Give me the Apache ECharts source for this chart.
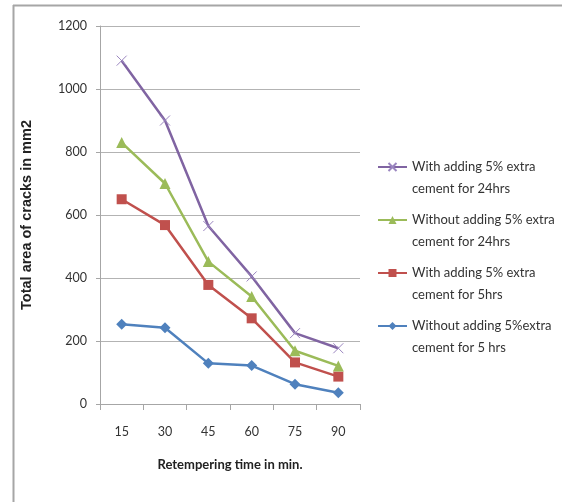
<!DOCTYPE html>
<html>
<head>
<meta charset="utf-8">
<script src="https://cdn.jsdelivr.net/npm/echarts@6/dist/echarts.min.js"></script>
<style>
  html, body { margin: 0; padding: 0; background: #ffffff; }
  #chart { width: 562px; height: 502px; }
</style>
</head>
<body>
<div id="chart"></div>
<script>
// Retempering time (minutes)
const categories = ['15', '30', '45', '60', '75', '90'];

// Total area of cracks (mm2) for each curing / cement condition
const seriesNames = [
  'With adding 5% extra\ncement for 24hrs',
  'Without adding 5% extra\ncement for 24hrs',
  'With adding 5% extra\ncement for 5hrs',
  'Without adding 5%extra\ncement for 5 hrs'
];
const with24 = [1090, 900, 565, 405, 225, 177];
const without24 = [830, 700, 452, 341, 169, 121];
const with5 = [650, 568, 378, 272, 132, 87];
const without5 = [253, 242, 129, 122, 63, 36];

const yTicks = [0, 200, 400, 600, 800, 1000, 1200];

const colors = ['#8064A2', '#9BBB59', '#C0504D', '#4F81BD'];
const symbols = [
  'path://M0,0L10,10M10,0L0,10',
  'triangle',
  'rect',
  'diamond'
];
const symbolSizes = [10, 11, 10, 11];
const values = [with24, without24, with5, without5];

const chart = echarts.init(document.getElementById('chart'), null, { renderer: 'canvas' });

const series = values.map((data, i) => ({
  name: seriesNames[i],
  type: 'line',
  data: data,
  symbol: symbols[i],
  symbolSize: symbolSizes[i],
  showAllSymbol: true,
  lineStyle: { color: colors[i], width: 2.5 },
  itemStyle: i === 0
    ? { color: colors[i], borderColor: '#9b86c0', borderWidth: 1 }
    : { color: colors[i], borderWidth: 0 },
  emphasis: { disabled: true },
  z: 10 - i
}));

chart.setOption({
  animation: false,
  backgroundColor: '#ffffff',
  grid: { left: 100, right: 202, top: 26, bottom: 98 },
  xAxis: {
    type: 'category',
    data: categories,
    boundaryGap: true,
    name: 'Retempering time in min.',
    nameLocation: 'middle',
    nameGap: 54,
    nameTextStyle: { fontFamily: 'Lato', fontWeight: 'bold', fontSize: 13, color: '#222' },
    axisLine: { lineStyle: { color: '#a6a6a6', width: 1 } },
    axisTick: { show: true, inside: false, length: 6, alignWithLabel: false, lineStyle: { color: '#a6a6a6' } },
    axisLabel: { margin: 21, fontFamily: 'Lato', fontSize: 12.5, color: '#333' },
    splitLine: { show: false }
  },
  yAxis: {
    type: 'value',
    min: yTicks[0],
    max: yTicks[yTicks.length - 1],
    interval: 200,
    name: 'Total area of cracks in mm2',
    nameLocation: 'middle',
    nameGap: 66,
    nameTextStyle: { fontFamily: 'Liberation Sans', fontWeight: 'bold', fontSize: 14.5, color: '#222' },
    axisLine: { show: true, lineStyle: { color: '#a6a6a6', width: 1 } },
    axisTick: { show: true, length: 4, lineStyle: { color: '#a6a6a6' } },
    axisLabel: { margin: 13, fontFamily: 'Lato', fontSize: 12.5, color: '#333', formatter: v => String(v) },
    splitLine: { show: true, lineStyle: { color: '#b3b3b3', width: 1 } }
  },
  legend: {
    orient: 'vertical',
    left: 377,
    top: 134,
    padding: 0,
    itemWidth: 29,
    itemHeight: 10,
    itemGap: -13,
    selectedMode: false,
    data: seriesNames,
    // a blank leading line keeps the icon level with the first text line
    formatter: name => ' \n' + name,
    textStyle: {
      fontFamily: 'Lato',
      fontSize: 13,
      color: '#333',
      lineHeight: 22
    }
  },
  graphic: [
    {
      type: 'line',
      shape: { x1: 13, y1: 5.5, x2: 562, y2: 5.5 },
      style: { stroke: '#a6a6a6', lineWidth: 2 },
      silent: true
    },
    {
      type: 'line',
      shape: { x1: 13.5, y1: 5, x2: 13.5, y2: 502 },
      style: { stroke: '#a6a6a6', lineWidth: 2 },
      silent: true
    }
  ],
  series: series
});
</script>
</body>
</html>
